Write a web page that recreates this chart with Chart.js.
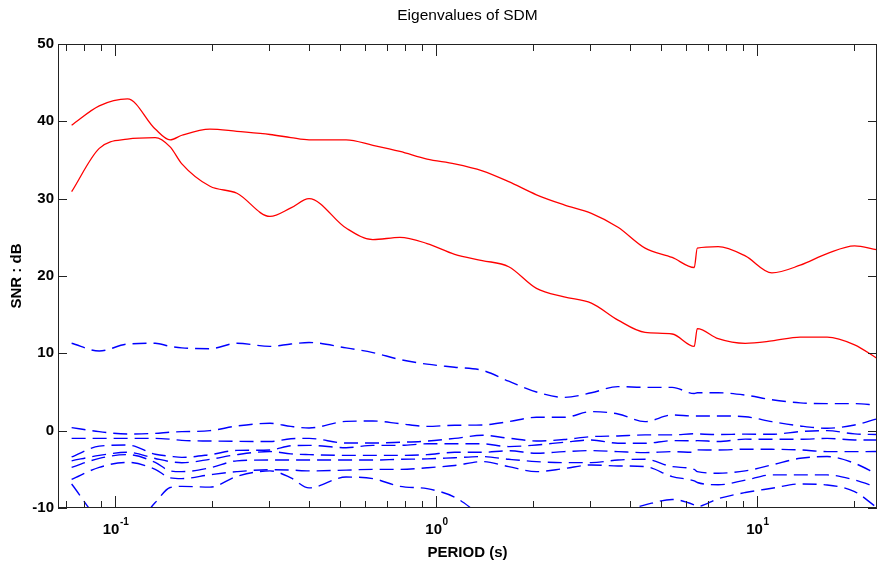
<!DOCTYPE html>
<html>
<head>
<meta charset="utf-8">
<title>Eigenvalues of SDM</title>
<script src="https://cdn.jsdelivr.net/npm/chart.js@4/dist/chart.umd.min.js"></script>
<style>
  html, body { margin: 0; padding: 0; background: #fff; }
  canvas { display: block; }
</style>
</head>
<body>
<canvas id="sdmChart" width="880" height="563"></canvas>
<script>
// period axis (s) shared by every curve
const periods = [0.073, 0.089, 0.109, 0.133, 0.148, 0.161, 0.197, 0.239, 0.303, 0.352, 0.401,
  0.523, 0.634, 0.77, 0.935, 1.14, 1.39, 1.68, 2.05, 2.5, 3.04, 3.68, 4.47, 5.43,
  6.36, 6.5, 7.55, 9.17, 11.1, 13.6, 16.5, 20.1, 23.5];

// two signal eigenvalues (solid red)
const eig1 = [39.5, 42.0, 42.9, 39.0, 37.6, 38.2, 39.0, 38.7, 38.3, 37.9, 37.6,
  37.6, 36.9, 36.1, 35.1, 34.5, 33.6, 32.2, 30.5, 29.2, 28.1, 26.3, 23.6, 22.4,
  21.1, 23.6, 23.8, 22.6, 20.4, 21.4, 22.9, 23.9, 23.4];
const eig2 = [30.9, 36.5, 37.7, 37.9, 36.7, 34.5, 31.6, 30.7, 27.7, 28.8, 30.0,
  26.2, 24.7, 25.0, 24.2, 22.8, 22.0, 21.2, 18.4, 17.3, 16.5, 14.3, 12.7, 12.5,
  10.9, 13.2, 11.9, 11.3, 11.6, 12.1, 12.1, 11.1, 9.4];

// noise eigenvalues (dashed blue)
const eig3 = [11.3, 10.3, 11.2, 11.3, 10.9, 10.7, 10.6, 11.3, 10.9, 11.2, 11.4,
  10.7, 10.1, 9.2, 8.6, 8.2, 7.8, 6.4, 5.0, 4.3, 4.9, 5.7, 5.6, 5.6,
  4.8, 4.9, 4.9, 4.6, 4.0, 3.6, 3.5, 3.5, 3.3];
const eig4 = [0.39, -0.13, -0.43, -0.35, -0.2, -0.13, 0.0, 0.6, 0.95, 0.55, 0.35,
  1.2, 1.25, 0.9, 0.55, 0.7, 0.74, 1.17, 1.73, 1.73, 2.46, 2.16, 1.17, 2.03,
  1.9, 1.9, 1.9, 1.8, 1.17, 0.61, 0.31, 0.74, 1.5];
const eig5 = [-1.0, -1.0, -1.0, -1.0, -1.1, -1.25, -1.34, -1.38, -1.4, -1.05, -1.0,
  -1.6, -1.6, -1.5, -1.35, -1.0, -0.6, -0.98, -1.33, -1.15, -0.77, -0.68, -0.55, -0.55,
  -0.4, -0.42, -0.5, -0.45, -0.47, -0.12, 0.01, -0.42, -0.5];
const eig6 = [-3.4, -2.0, -1.85, -3.05, -3.3, -3.45, -3.1, -2.55, -2.5, -1.95, -1.9,
  -2.2, -1.9, -1.9, -1.7, -1.7, -1.7, -2.06, -1.85, -1.5, -1.2, -1.63, -1.63, -1.29,
  -1.3, -1.29, -1.4, -1.1, -1.11, -1.11, -1.0, -1.2, -1.2];
const eig7 = [-3.9, -3.2, -2.8, -3.6, -4.0, -4.15, -3.7, -3.1, -2.7, -3.0, -3.1,
  -3.2, -3.2, -3.2, -3.1, -2.8, -2.8, -2.6, -2.92, -2.71, -2.58, -2.71, -2.84, -2.71,
  -2.8, -2.49, -2.5, -2.4, -2.41, -2.49, -2.71, -2.71, -2.7];
const eig8 = [-4.74, -3.58, -3.1, -4.1, -5.2, -5.3, -4.8, -3.9, -3.8, -3.8, -3.8,
  -3.8, -3.8, -3.7, -3.65, -3.5, -3.35, -3.7, -4.0, -4.13, -4.13, -3.79, -3.7, -4.65,
  -5.0, -5.29, -5.5, -5.2, -4.43, -3.57, -3.35, -4.22, -5.6];
const eig9 = [-6.3, -4.74, -4.1, -5.0, -6.1, -6.2, -5.7, -5.3, -5.05, -5.1, -5.2,
  -5.1, -5.0, -5.0, -4.8, -4.5, -4.0, -4.65, -5.3, -4.9, -4.43, -4.56, -4.65, -5.94,
  -6.5, -6.7, -7.0, -6.4, -5.72, -5.72, -5.72, -6.37, -7.3];
const eig10 = [-6.9, -11.5, -13, -9.3, -7.35, -7.2, -7.3, -5.9, -5.2, -6.1, -7.4,
  -6.0, -6.2, -7.2, -7.5, -8.6, -11, -12.5, -12.5, -11.5, -11, -10.6, -9.6, -8.9,
  -9.6, -9.8, -8.8, -8.0, -7.45, -6.89, -7.02, -7.88, -9.9];

// tick marks on the period axis, decades carry a label
const xTicks = [0.07, 0.08, 0.09, 0.1, 0.2, 0.3, 0.4, 0.5, 0.6, 0.7, 0.8, 0.9,
  1, 2, 3, 4, 5, 6, 7, 8, 9, 10, 20];
const xDecades = [0.1, 1, 10];
const xExponents = ['-1', '0', '1'];
const chartTitle = 'Eigenvalues of SDM';

const FONT = 'Arial, "Liberation Sans", Helvetica, sans-serif';
Chart.defaults.font.family = FONT;
Chart.defaults.color = '#000';

function pts(vals) {
  return periods.map((p, i) => ({ x: p, y: vals[i] }));
}

const red = [eig1, eig2];
const blue = [eig3, eig4, eig5, eig6, eig7, eig8, eig9, eig10];

const datasets = [];
blue.forEach((v, i) => {
  datasets.push({
    label: 'noise ' + (i + 1),
    data: pts(v),
    borderColor: '#0000ff',
    borderWidth: 1.4,
    borderDash: [14, 7],
    pointRadius: 0,
    cubicInterpolationMode: 'monotone'
  });
});
red.forEach((v, i) => {
  datasets.push({
    label: 'signal ' + (i + 1),
    data: pts(v),
    borderColor: '#ff0000',
    borderWidth: 1.3,
    pointRadius: 0,
    cubicInterpolationMode: 'monotone'
  });
});

// matlab style box: inward ticks on all four sides, 10^n labels, title over the plot
const axesBox = {
  id: 'axesBox',
  afterDatasetsDraw(chart) {
    const { ctx, chartArea: a, scales: { x, y } } = chart;
    ctx.save();
    ctx.strokeStyle = '#222';
    ctx.lineWidth = 1;
    ctx.strokeRect(a.left + 0.5, a.top + 0.5, a.right - a.left - 1, a.bottom - a.top - 1);
    ctx.beginPath();
    xTicks.forEach(v => {
      const px = Math.round(x.getPixelForValue(v)) + 0.5;
      const len = xDecades.includes(v) ? 12 : 7;
      ctx.moveTo(px, a.bottom);
      ctx.lineTo(px, a.bottom - len);
      ctx.moveTo(px, a.top);
      ctx.lineTo(px, a.top + len);
    });
    y.ticks.forEach(t => {
      const py = Math.round(y.getPixelForValue(t.value)) + 0.5;
      ctx.moveTo(a.left, py);
      ctx.lineTo(a.left + 9, py);
      ctx.moveTo(a.right, py);
      ctx.lineTo(a.right - 9, py);
    });
    ctx.stroke();

    ctx.fillStyle = '#000';
    ctx.textBaseline = 'middle';
    ctx.textAlign = 'left';
    xDecades.forEach((v, i) => {
      const px = x.getPixelForValue(v);
      ctx.font = 'bold 15px ' + FONT;
      const bw = ctx.measureText('10').width;
      ctx.font = 'bold 10px ' + FONT;
      const sw = ctx.measureText(xExponents[i]).width;
      const left = px - (bw + sw) / 2;
      ctx.font = 'bold 15px ' + FONT;
      ctx.fillText('10', left, a.bottom + 22);
      ctx.font = 'bold 10px ' + FONT;
      ctx.fillText(xExponents[i], left + bw + 0.5, a.bottom + 14);
    });

    ctx.textAlign = 'center';
    ctx.font = '15.5px ' + FONT;
    ctx.fillText(chartTitle, (a.left + a.right) / 2, 16);
    ctx.restore();
  }
};

new Chart(document.getElementById('sdmChart'), {
  type: 'line',
  data: { datasets },
  options: {
    responsive: false,
    animation: false,
    layout: { padding: { top: 44, left: 0, right: 3, bottom: 0 } },
    plugins: {
      legend: { display: false },
      tooltip: { enabled: false },
      title: { display: false }
    },
    scales: {
      x: {
        type: 'logarithmic',
        min: 0.0662,
        max: 23.6,
        grid: { display: false, drawTicks: false },
        border: { display: false },
        ticks: { display: false },
        title: {
          display: true,
          text: 'PERIOD (s)',
          font: { size: 15, weight: 'bold' },
          padding: { top: 0, bottom: 1 }
        },
        afterFit: s => { s.height = 55; }
      },
      y: {
        min: -10,
        max: 50,
        grid: { display: false, drawTicks: false },
        border: { display: false },
        ticks: {
          stepSize: 10,
          padding: 4,
          font: { size: 15, weight: 'bold' }
        },
        title: {
          display: true,
          text: 'SNR : dB',
          font: { size: 15, weight: 'bold' },
          padding: { top: 8, bottom: 0 }
        },
        afterFit: s => { s.width = 58; }
      }
    }
  },
  plugins: [axesBox]
});
</script>
</body>
</html>
